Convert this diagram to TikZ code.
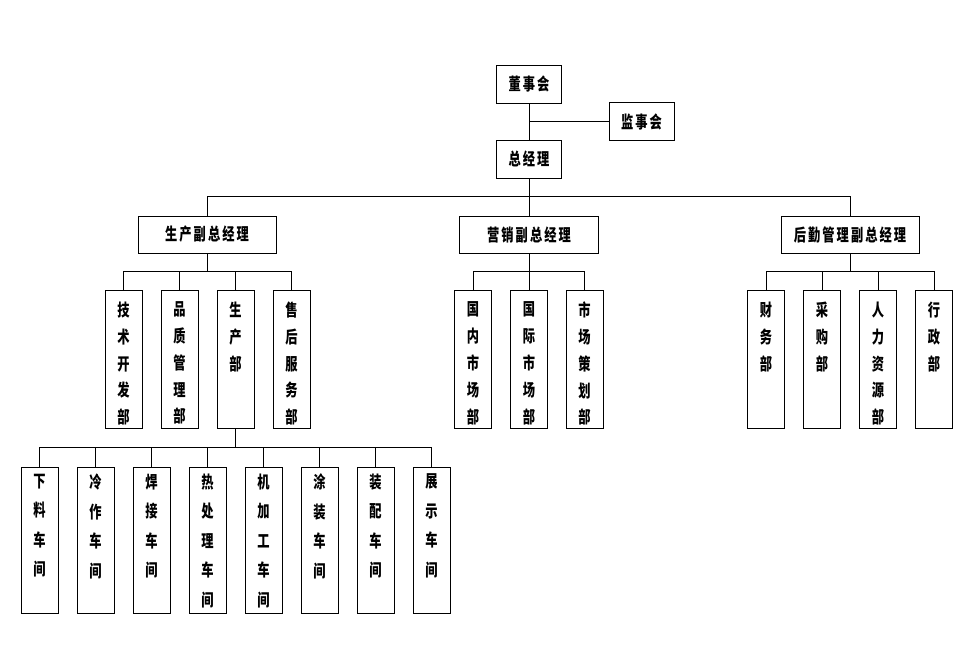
\documentclass[tikz,border=0pt]{standalone}
\usepackage{fontspec}
\usepackage{tikz}
\usetikzlibrary{calc}
\newfontfamily\cjk[FakeStretch=0.72]{Noto Sans CJK SC}
\newfontfamily\cjkwide[FakeStretch=0.72,LetterSpace=12]{Noto Sans CJK SC}
% vertical text, upper row and workshop row
\newcommand{\colA}[1]{\parbox[c][138pt][t]{20pt}{\centering\fontsize{17pt}{26.8pt}\selectfont\vspace*{11.5pt}#1}}
\newcommand{\colB}[1]{\parbox[c][146pt][t]{20pt}{\centering\fontsize{17pt}{29.5pt}\selectfont\vspace*{6.5pt}#1}}
\tikzset{
  hbox/.style={draw, line width=0.8pt, minimum height=38pt, inner sep=0pt, font=\cjkwide\bfseries\fontsize{17pt}{20pt}\selectfont},
  vbox/.style={draw, line width=0.8pt, minimum width=37pt, inner sep=0pt, anchor=north, font=\cjk\bfseries},
  link/.style={line width=0.8pt}
}
\begin{document}
\begin{tikzpicture}[x=1pt,y=-1pt]
\useasboundingbox (0,0) rectangle (967,647);
% top
\node[hbox, minimum width=65pt] (dsh) at (529,84) {董事会};
\node[hbox, minimum width=65pt] (jsh) at (641.5,121.5) {监事会};
\node[hbox, minimum width=65pt] (zjl) at (529,159) {总经理};
\draw[link] (dsh.south) -- (zjl.north);
\draw[link] (jsh.west) -- (jsh.west -| dsh.south);
% vice managers
\node[hbox, minimum width=138pt, minimum height=37pt] (scf) at (207,234.5) {生产副总经理};
\node[hbox, minimum width=139pt, minimum height=37pt] (yxf) at (529,234.5) {营销副总经理};
\node[hbox, minimum width=138pt, minimum height=37pt] (hqf) at (850,234.5) {后勤管理副总经理};
\draw[link] (zjl.south) -- (yxf.north);
\draw[link] (scf.north) -- ++(0,-19) -| (hqf.north);
% production
\node[vbox] (jskf) at (123.5,290) {\colA{技\\术\\开\\发\\部}};
\node[vbox] (pzgl) at (179.5,290) {\colA{品\\质\\管\\理\\部}};
\node[vbox] (scb) at (235.5,290) {\colA{生\\产\\部}};
\node[vbox] (shfw) at (291.5,290) {\colA{售\\后\\服\\务\\部}};
\draw[link] (scf.south) -- ++(0,18);
\draw[link] (jskf.north) -- ++(0,-19) -| (shfw.north);
\draw[link] (pzgl.north) -- ++(0,-19);
\draw[link] (scb.north) -- ++(0,-19);
% marketing
\node[vbox] (gnsc) at (473,290) {\colA{国\\内\\市\\场\\部}};
\node[vbox] (gjsc) at (529,290) {\colA{国\\际\\市\\场\\部}};
\node[vbox] (scch) at (584.5,290) {\colA{市\\场\\策\\划\\部}};
\draw[link] (yxf.south) -- (gjsc.north);
\draw[link] (gnsc.north) -- ++(0,-19) -| (scch.north);
% logistics
\node[vbox] (cwb) at (766,290) {\colA{财\\务\\部}};
\node[vbox] (cgb) at (822,290) {\colA{采\\购\\部}};
\node[vbox] (rlzy) at (878,290) {\colA{人\\力\\资\\源\\部}};
\node[vbox] (xzb) at (934,290) {\colA{行\\政\\部}};
\draw[link] (hqf.south) -- ++(0,18);
\draw[link] (cwb.north) -- ++(0,-19) -| (xzb.north);
\draw[link] (cgb.north) -- ++(0,-19);
\draw[link] (rlzy.north) -- ++(0,-19);
% workshops
\node[vbox] (xl) at (39.5,467) {\colB{下\\料\\车\\间}};
\node[vbox] (lz) at (95.5,467) {\colB{冷\\作\\车\\间}};
\node[vbox] (hj) at (151.5,467) {\colB{焊\\接\\车\\间}};
\node[vbox] (rcl) at (207.5,467) {\colB{热\\处\\理\\车\\间}};
\node[vbox] (jjg) at (263.5,467) {\colB{机\\加\\工\\车\\间}};
\node[vbox] (tz) at (319.5,467) {\colB{涂\\装\\车\\间}};
\node[vbox] (zp) at (375.5,467) {\colB{装\\配\\车\\间}};
\node[vbox] (zs) at (431.5,467) {\colB{展\\示\\车\\间}};
\draw[link] (scb.south) -- ++(0,19);
\draw[link] (xl.north) -- ++(0,-20) -| (zs.north);
\draw[link] (lz.north) -- ++(0,-20);
\draw[link] (hj.north) -- ++(0,-20);
\draw[link] (rcl.north) -- ++(0,-20);
\draw[link] (jjg.north) -- ++(0,-20);
\draw[link] (tz.north) -- ++(0,-20);
\draw[link] (zp.north) -- ++(0,-20);
\end{tikzpicture}
\end{document}
